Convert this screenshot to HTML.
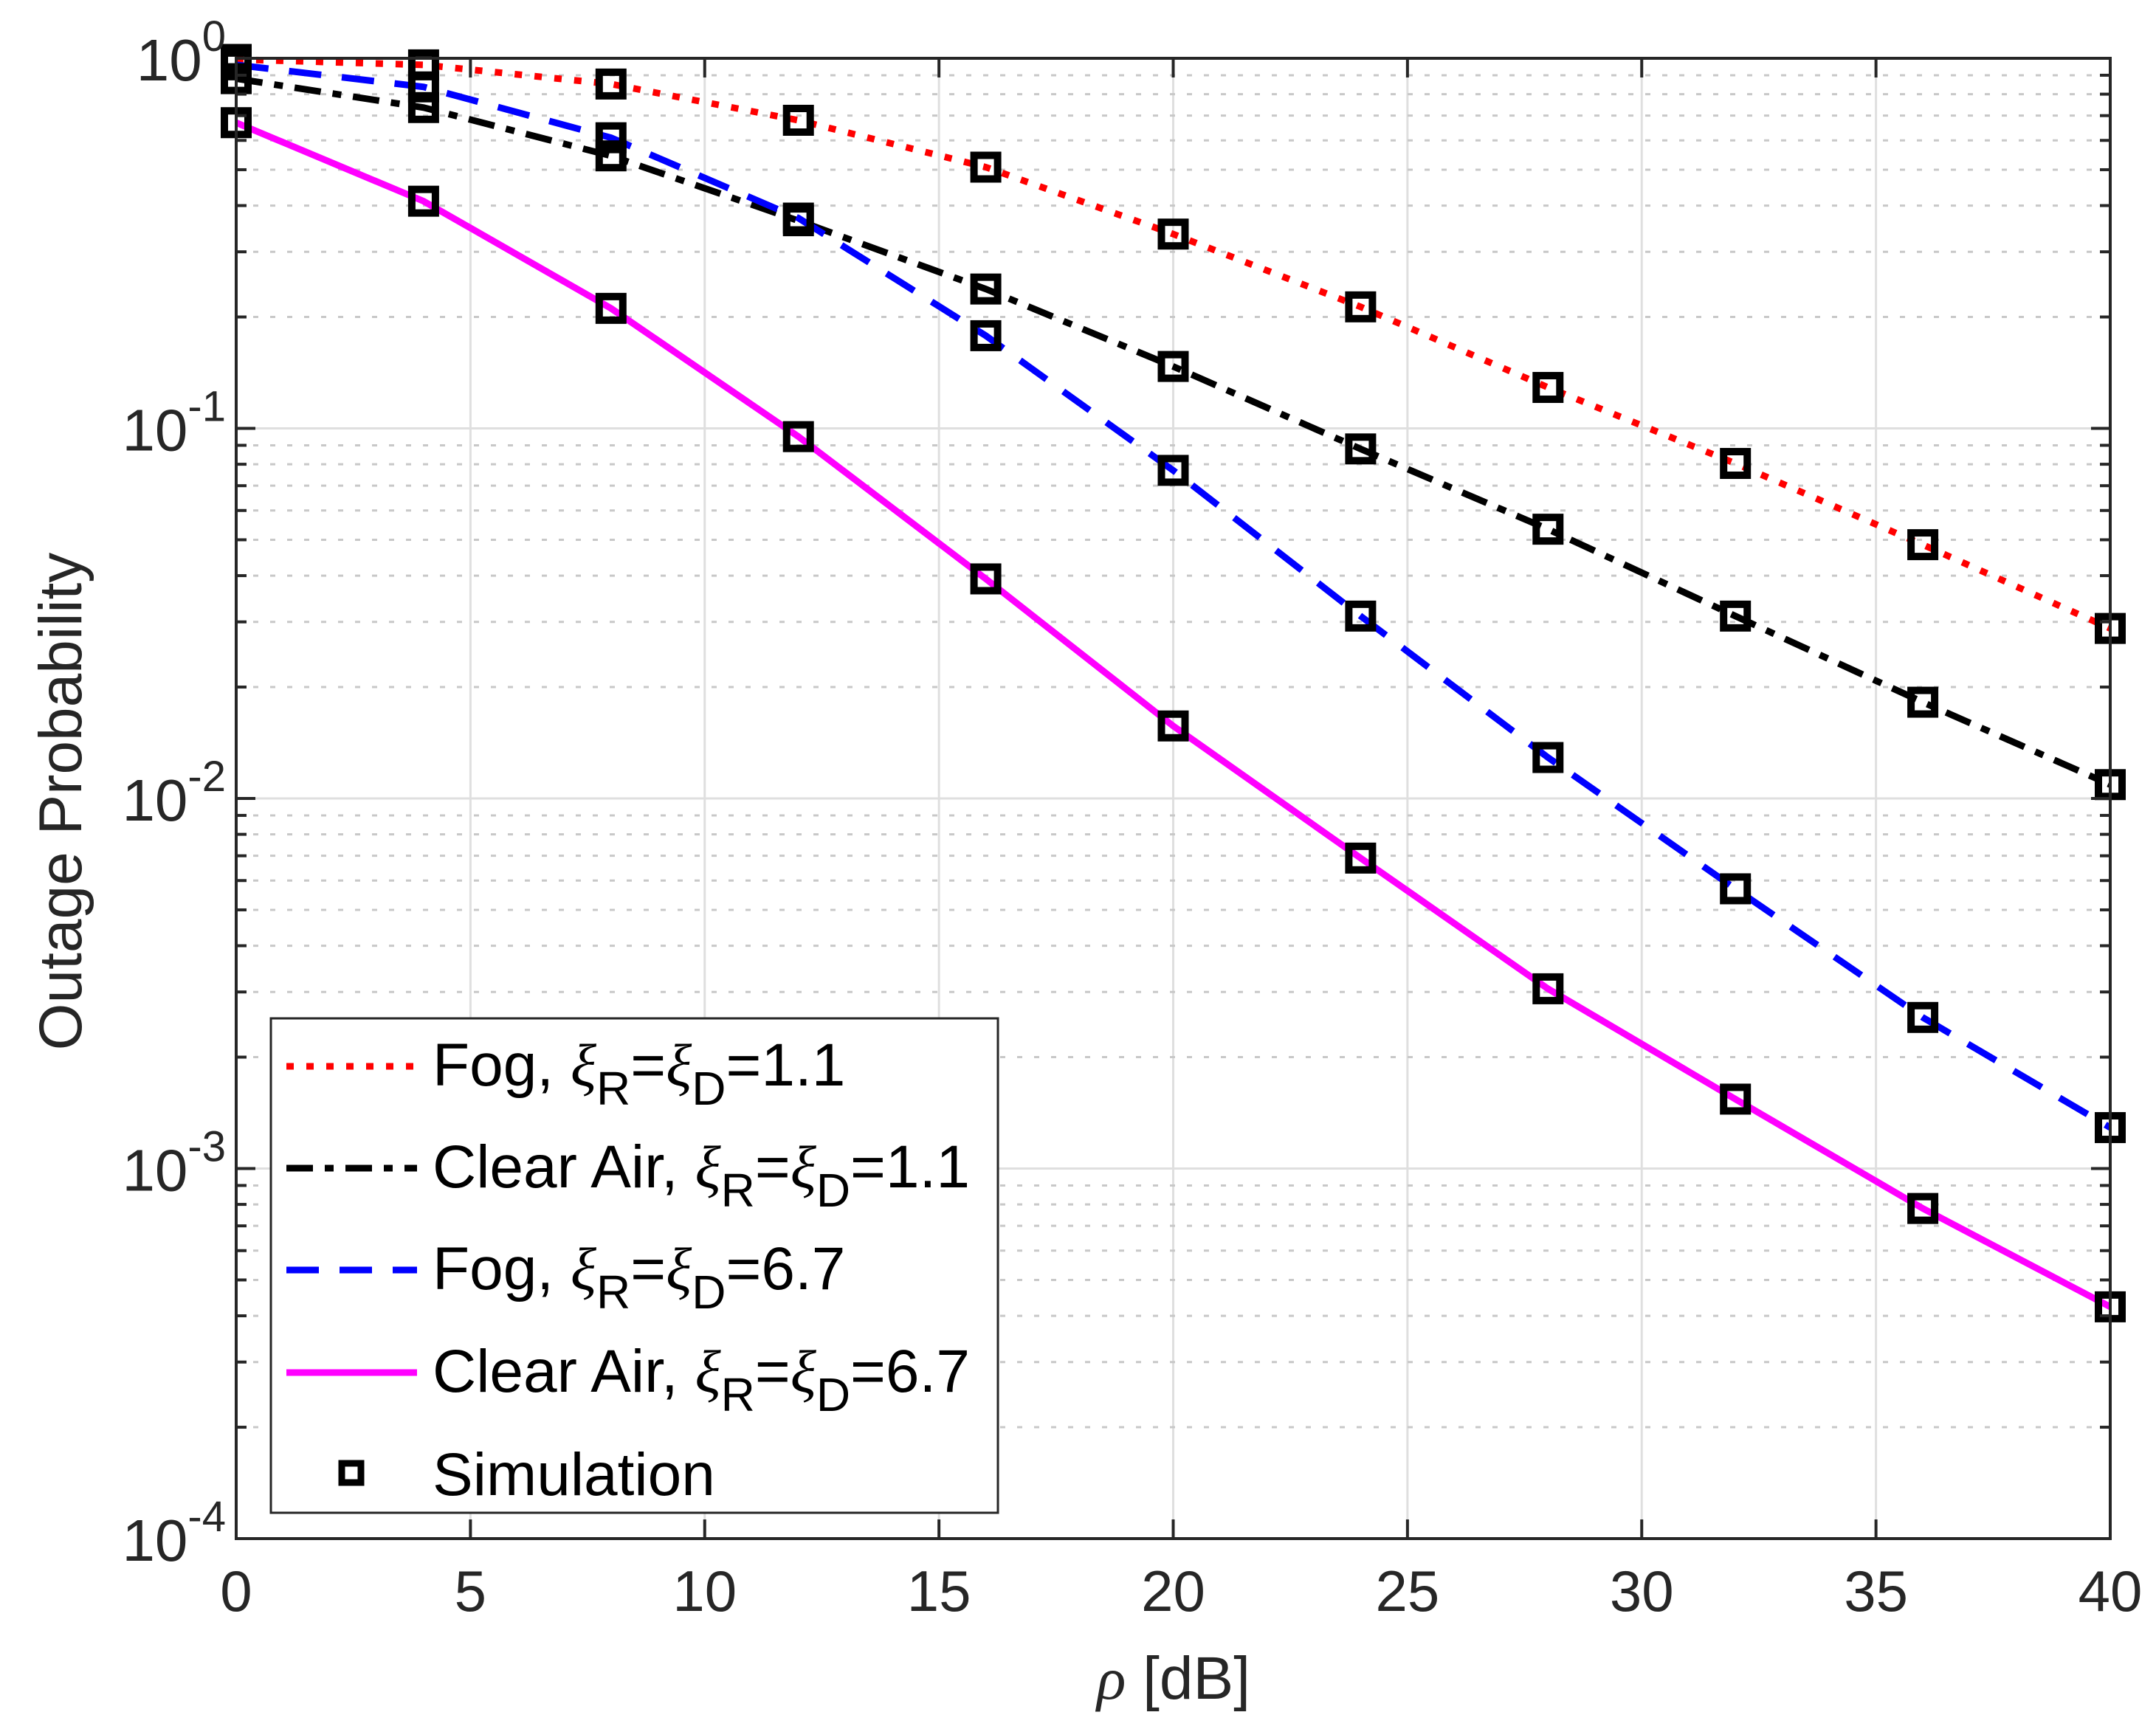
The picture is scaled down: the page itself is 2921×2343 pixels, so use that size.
<!DOCTYPE html>
<html><head><meta charset="utf-8"><style>
html,body{margin:0;padding:0;background:#fff;}
svg{display:block;font-family:"Liberation Sans",Arial,sans-serif;}
</style></head><body>
<svg id="chart" width="2921" height="2343" viewBox="0 0 2921 2343" xmlns="http://www.w3.org/2000/svg">
<g id="grid"></g>
<g id="series"></g>
<g id="axes"></g>
<text x="1590" y="2302" font-size="82" text-anchor="middle" fill="#262626"><tspan font-style="italic" font-family="Liberation Serif, serif">ρ</tspan> [dB]</text>
<text transform="translate(110,1086) rotate(-90)" font-size="82" text-anchor="middle" fill="#262626">Outage Probability</text>
<g id="legend"></g>
</svg>
<script>
const xValues = [0,4,8,12,16,20,24,28,32,36,40];
const fog11 = [0.993,0.96,0.852,0.68,0.508,0.335,0.213,0.129,0.0804,0.0485,0.0288];
const clear11 = [0.881,0.736,0.545,0.364,0.238,0.147,0.088,0.0534,0.0311,0.0182,0.0109];
const fog67 = [0.96,0.837,0.61,0.37,0.178,0.077,0.0311,0.0129,0.0057,0.00256,0.00129];
const clear67 = [0.67,0.411,0.211,0.095,0.0392,0.0157,0.0069,0.00306,0.00154,0.00078,0.000423];
const xTicks = [0,5,10,15,20,25,30,35,40];
const yExps = [0,-1,-2,-3,-4];

const L=320,R=2859,T=79,B=2085;
const NS="http://www.w3.org/2000/svg";
function sx(v){return L+(v-0)/(40-0)*(R-L);}
function sy(v){return T+(0-Math.log10(v))/4*(B-T);}
function mk(tag,attrs,parent){const e=document.createElementNS(NS,tag);for(const k in attrs)e.setAttribute(k,attrs[k]);parent.appendChild(e);return e;}
const grid=document.getElementById('grid'),axes=document.getElementById('axes'),series=document.getElementById('series'),legend=document.getElementById('legend');

xTicks.forEach(t=>{const l=mk('line',{x1:sx(t),x2:sx(t),y1:T,y2:B,stroke:'#dfdfdf','stroke-width':3},grid);

});
for(let e=-4;e<0;e++){for(let m=2;m<=9;m++){const v=m*Math.pow(10,e);
const l=mk('line',{x1:L,x2:R,y1:sy(v),y2:sy(v),stroke:'#c8c8c8','stroke-width':3,'stroke-dasharray':'7 16'},grid);

}}
yExps.forEach(e=>{const l=mk('line',{x1:L,x2:R,y1:sy(Math.pow(10,e)),y2:sy(Math.pow(10,e)),stroke:'#dfdfdf','stroke-width':3},grid);

});

const defs=[
 {d:fog11,c:'#ff0000',dash:'10 17',name:'fog-1-1-line'},
 {d:clear11,c:'#000000',dash:'36 16 12 16',name:'clear-air-1-1-line'},
 {d:fog67,c:'#0000ff',dash:'44 28',name:'fog-6-7-line'},
 {d:clear67,c:'#ff00ff',dash:'none',name:'clear-air-6-7-line'}];
defs.forEach(s=>{const pts=s.d.map((v,i)=>sx(xValues[i])+','+sy(v)).join(' ');
const p=mk('polyline',{points:pts,fill:'none',stroke:s.c,'stroke-width':9,'stroke-dasharray':s.dash},series);

});
defs.forEach(s=>{s.d.forEach((v,i)=>{const r=mk('rect',{x:sx(xValues[i])-16,y:sy(v)-16,width:32,height:32,fill:'none',stroke:'#000','stroke-width':10},series);

});});

const box=mk('rect',{x:L,y:T,width:R-L,height:B-T,fill:'none',stroke:'#262626','stroke-width':4},axes);


xTicks.forEach(t=>{const x=sx(t);
mk('line',{x1:x,x2:x,y1:B,y2:B-26,stroke:'#262626','stroke-width':4},axes);
mk('line',{x1:x,x2:x,y1:T,y2:T+26,stroke:'#262626','stroke-width':4},axes);
const tx=mk('text',{x:x,y:B+98,'font-size':78,'text-anchor':'middle',fill:'#262626'},axes);
tx.textContent=t;

});
for(let e=-4;e<0;e++){for(let m=2;m<=9;m++){const y=sy(m*Math.pow(10,e));
mk('line',{x1:L,x2:L+14,y1:y,y2:y,stroke:'#262626','stroke-width':4},axes);
mk('line',{x1:R,x2:R-14,y1:y,y2:y,stroke:'#262626','stroke-width':4},axes);}}
yExps.forEach(e=>{const y=sy(Math.pow(10,e));
mk('line',{x1:L,x2:L+26,y1:y,y2:y,stroke:'#262626','stroke-width':4},axes);
mk('line',{x1:R,x2:R-26,y1:y,y2:y,stroke:'#262626','stroke-width':4},axes);
const tx=mk('text',{x:L-14,y:y+30,'font-size':80,'text-anchor':'end',fill:'#262626'},axes);


const a=document.createElementNS(NS,'tspan');a.textContent='10';tx.appendChild(a);
const b=document.createElementNS(NS,'tspan');b.setAttribute('dy','-40');b.setAttribute('font-size','58');b.textContent=String(e);tx.appendChild(b);});

const lb=mk('rect',{x:367,y:1380,width:985,height:670,fill:'#fff',stroke:'#262626','stroke-width':3},legend);


const legY=[1445,1583,1721,1860];
const legLabels=[['Fog, ','1.1'],['Clear Air, ','1.1'],['Fog, ','6.7'],['Clear Air, ','6.7']];
defs.forEach((s,i)=>{const y=legY[i];
const ln=mk('line',{x1:388,x2:565,y1:y,y2:y,stroke:s.c,'stroke-width':9,'stroke-dasharray':s.dash},legend);


const t=mk('text',{x:586,y:y+26,'font-size':82,fill:'#000'},legend);


t.innerHTML=legLabels[i][0]+'<tspan font-style="italic" font-family="Liberation Serif, serif">ξ</tspan><tspan font-size="64" dy="26">R</tspan><tspan dy="-26">=</tspan><tspan font-style="italic" font-family="Liberation Serif, serif">ξ</tspan><tspan font-size="64" dy="26">D</tspan><tspan dy="-26">='+legLabels[i][1]+'</tspan>';});
const sm=mk('rect',{x:463,y:1983,width:26,height:26,fill:'none',stroke:'#000','stroke-width':9},legend);


const st=mk('text',{x:586,y:2026,'font-size':82,fill:'#000'},legend);
st.textContent='Simulation';


</script>
</body></html>
